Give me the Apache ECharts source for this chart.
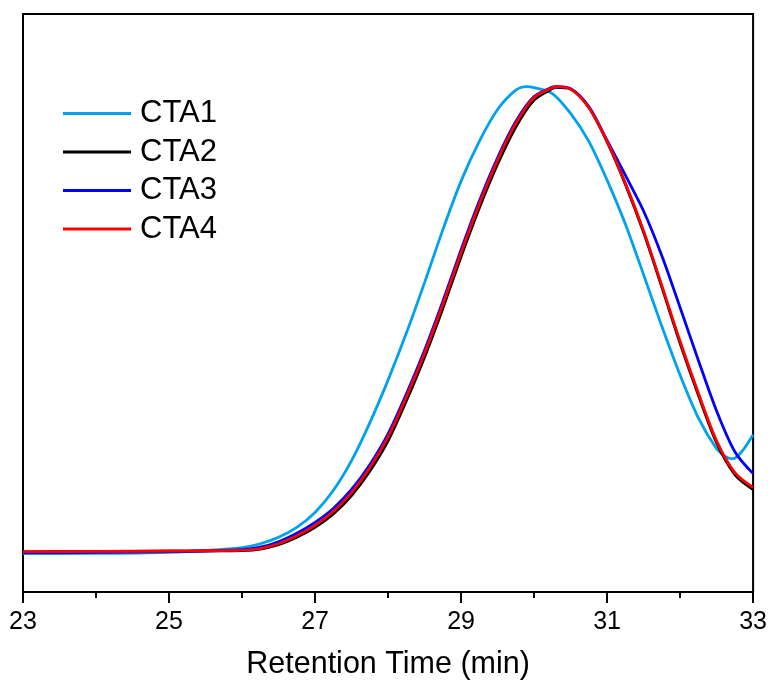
<!DOCTYPE html>
<html>
<head>
<meta charset="utf-8">
<script src="https://cdn.jsdelivr.net/npm/echarts@6/dist/echarts.min.js"></script>
<style>html,body{margin:0;padding:0;background:#fff;overflow:hidden;}#chart{width:770px;height:685px;}</style>
</head>
<body>
<div id="chart"></div>
<script>
// Retention time (min) ticks
const xTicks = [23, 25, 27, 29, 31, 33];
const seriesNames = ['CTA1', 'CTA2', 'CTA3', 'CTA4'];
const seriesColors = ['#00A2EE', '#000000', '#0000FF', '#FF0000'];

// Retention time grids (min)
const timeA = [23.0, 24.0, 25.0, 25.5, 26.0, 26.25, 26.5, 26.75, 27.0, 27.25, 27.5, 27.75,
  28.0, 28.25, 28.5, 28.75, 29.0, 29.25, 29.5, 29.75, 29.9, 30.0, 30.25, 30.5, 30.75,
  31.0, 31.25, 31.5, 31.75, 32.0, 32.25, 32.5, 32.625, 32.7, 32.75, 32.875, 33.0];
const timeB = [23.0, 24.0, 25.0, 25.5, 26.0, 26.25, 26.5, 26.75, 27.0, 27.25, 27.5, 27.75,
  28.0, 28.25, 28.5, 28.75, 29.0, 29.25, 29.5, 29.75, 30.0, 30.25, 30.3, 30.5, 30.75,
  31.0, 31.25, 31.5, 31.75, 32.0, 32.25, 32.5, 32.75, 33.0];

// normalized intensity
const cta1 = [6.63, 6.68, 6.88, 7.18, 7.69, 8.35, 9.47, 11.19, 13.77, 17.56, 22.72, 29.26,
  36.66, 44.75, 53.53, 62.65, 71.08, 77.97, 83.48, 86.83, 87.44, 87.26, 86.23, 82.79, 77.97,
  71.26, 63.68, 54.91, 45.96, 37.52, 30.12, 24.78, 23.41, 23.06, 23.15, 24.78, 27.19];
const cta2 = [6.94, 6.99, 7.06, 7.11, 7.18, 7.43, 8.18, 9.47, 11.19, 13.51, 16.70, 20.91,
  26.16, 33.05, 40.62, 49.05, 58.00, 66.44, 74.01, 80.46, 85.11, 87.09, 87.30, 87.01, 83.82,
  77.88, 70.57, 62.22, 52.75, 43.03, 34.08, 25.82, 20.31, 17.73];
const cta3 = [6.80, 6.85, 6.97, 7.09, 7.31, 7.75, 8.69, 10.15, 12.05, 14.46, 17.73, 22.03,
  27.37, 34.25, 41.82, 50.26, 59.21, 67.64, 75.13, 81.41, 85.71, 87.35, 87.44, 87.09, 83.99,
  78.14, 72.12, 65.92, 58.18, 49.23, 40.10, 31.33, 24.27, 20.48];
const cta4 = [6.97, 7.02, 7.09, 7.14, 7.23, 7.52, 8.35, 9.72, 11.53, 13.94, 17.21, 21.51,
  26.85, 33.73, 41.31, 49.74, 58.69, 67.13, 74.70, 81.07, 85.54, 87.26, 87.44, 87.01, 83.82,
  77.97, 70.74, 62.48, 53.01, 43.37, 34.42, 26.16, 20.65, 18.07];

const seriesData = [
  timeA.map((t, i) => [t, cta1[i]]),
  timeB.map((t, i) => [t, cta2[i]]),
  timeB.map((t, i) => [t, cta3[i]]),
  timeB.map((t, i) => [t, cta4[i]])
];

const chart = echarts.init(document.getElementById('chart'), null, {renderer: 'canvas'});
const font = 'Liberation Sans, Arial, sans-serif';
chart.setOption({
  animation: false,
  backgroundColor: '#ffffff',
  grid: {left: 23, width: 731, top: 14, height: 581, show: true, borderColor: '#000', borderWidth: 2, backgroundColor: 'transparent'},
  legend: {
    data: seriesNames,
    orient: 'vertical',
    left: 58,
    top: 93,
    icon: 'rect',
    itemWidth: 68,
    itemHeight: 3,
    itemGap: 7.5,
    textStyle: {fontFamily: font, fontSize: 31, color: '#000', lineHeight: 30, padding: [0, 0, 0, 4]}
  },
  xAxis: {
    type: 'value',
    min: xTicks[0],
    max: xTicks[xTicks.length - 1],
    interval: 2,
    name: 'Retention Time (min)',
    nameLocation: 'middle',
    nameGap: 57,
    nameTextStyle: {fontFamily: font, fontSize: 30.5, color: '#000'},
    axisLine: {show: true, onZero: false, lineStyle: {color: '#000', width: 2}},
    axisTick: {show: true, inside: false, length: 11, lineStyle: {color: '#000', width: 2}},
    minorTick: {show: true, splitNumber: 2, length: 6, lineStyle: {color: '#000', width: 2}},
    axisLabel: {fontFamily: font, fontSize: 25, color: '#000', margin: 18},
    splitLine: {show: false},
    minorSplitLine: {show: false}
  },
  yAxis: {
    type: 'value',
    min: 0,
    max: 100,
    axisLine: {show: true, lineStyle: {color: '#000', width: 2}},
    axisTick: {show: false},
    axisLabel: {show: false},
    splitLine: {show: false}
  },
  series: seriesNames.map((n, i) => ({
    name: n,
    type: 'line',
    data: seriesData[i],
    smooth: 0.3,
    showSymbol: false,
    symbol: 'none',
    lineStyle: {color: seriesColors[i], width: 2.8},
    itemStyle: {color: seriesColors[i]},
    z: 2 + i
  }))
});
</script>
</body>
</html>
